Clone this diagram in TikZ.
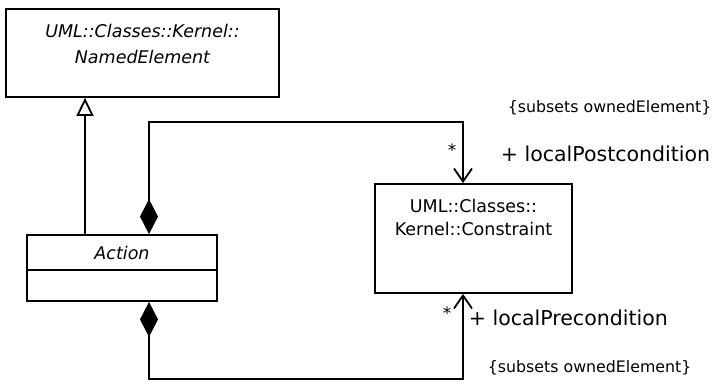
\documentclass[tikz,border=0pt]{standalone}
\usepackage{fontspec}
\setmainfont{DejaVu Sans}
\usetikzlibrary{positioning,arrows.meta}

\begin{document}
\begin{tikzpicture}[x=1pt,y=-1pt,line width=1.8pt,
   cls/.style={draw,rectangle,inner sep=0pt},
   clsname/.style={font=\fontsize{17.5}{23}\selectfont,align=center,inner sep=0pt},
   abstract/.style={font=\fontsize{17.5}{26}\selectfont\itshape,align=center,inner sep=0pt},
   role/.style={font=\fontsize{20.5}{24}\selectfont,anchor=west,inner sep=0pt},
   subs/.style={font=\fontsize{15.8}{19}\selectfont,anchor=west,inner sep=0pt},
   mult/.style={font=\fontsize{17}{20}\selectfont,inner sep=0pt},
   gen/.style={-{Triangle[open,length=18pt,width=17pt,fill=white]}},
   comp/.style={{Diamond[length=35pt,width=18pt]}-{Straight Barb[length=13pt,width=18pt]}}]
  \useasboundingbox (0,0) rectangle (726,386);
  % classes
  \node[cls,minimum width=273pt,minimum height=88pt] (named) at (142.5,53) {};
  \node[abstract] (namedtxt) at (142.5,44) {UML::Classes::Kernel::\\NamedElement};
  \node[cls,minimum width=190pt,minimum height=66pt] (action) at (122,268) {};
  \node[abstract] (actiontxt) at (122,253) {Action};
  \draw ([yshift=-36pt]action.north west) -- ([yshift=-36pt]action.north east);
  \node[cls,minimum width=197pt,minimum height=109pt] (cons) at (473.5,238.5) {};
  \node[clsname] (constxt) at (473.5,217) {UML::Classes::\\Kernel::Constraint};
  % generalization and compositions
  \draw[gen] ([xshift=-37pt]action.north) -- ([xshift=-57.5pt]named.south);
  \draw[comp] ([xshift=27pt]action.north) |- ([xshift=-10.5pt,yshift=61pt]cons.north) -- ([xshift=-10.5pt]cons.north);
  \draw[comp] ([xshift=27pt]action.south) |- ([xshift=-10.5pt,yshift=-85pt]cons.south) -- ([xshift=-10.5pt]cons.south);
  % association ends
  \node[subs] (subtop) at (507,108) {\{subsets ownedElement\}};
  \node[role] (post) at (500,154) {+ localPostcondition};
  \node[mult] (multtop) at (452,150) {*};
  \node[mult] (multbot) at (447,313) {*};
  \node[role] (pre) at (468,318) {+ localPrecondition};
  \node[subs] (subbot) at (487,368) {\{subsets ownedElement\}};
\end{tikzpicture}
\end{document}
